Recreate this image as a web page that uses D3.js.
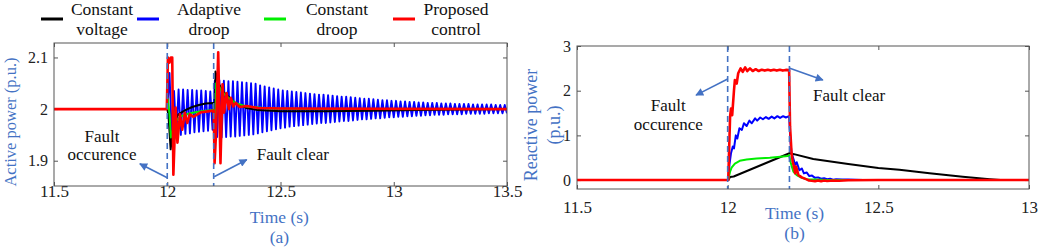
<!DOCTYPE html>
<html>
<head>
<meta charset="utf-8">
<script src="https://cdnjs.cloudflare.com/ajax/libs/d3/7.8.5/d3.min.js"></script>
<style>
  body { margin: 0; background: #fff; }
  svg, svg text { font-family: "Liberation Serif", "Times New Roman", serif; }
  svg { display: block; }
</style>
</head>
<body>
<div id="chart"></div>
<script>
// ---- shared ----
const seriesNames = [["Constant", "voltage"], ["Adaptive", "droop"], ["Constant", "droop"], ["Proposed", "control"]];
const seriesColors = ["#000000", "#0000ff", "#00ee00", "#ff0000"];
const faultTimes = [12.0, 12.205];

// ---- (a) active power ----
const pTicksX = [11.5, 12, 12.5, 13, 13.5];
const pTicksY = [1.9, 2, 2.1];
const pBlack = [[11.5, 2.0], [12.0, 2.0], [12.005, 1.99], [12.015, 1.922], [12.025, 1.96], [12.035, 1.98],
  [12.05, 1.99], [12.08, 1.998], [12.11, 2.004], [12.14, 2.008], [12.17, 2.011], [12.204, 2.012],
  [12.207, 1.95], [12.209, 1.937], [12.213, 2.073], [12.222, 2.055], [12.232, 2.045], [12.25, 2.032],
  [12.27, 2.024], [12.3, 2.012], [12.35, 2.002], [12.4, 1.998], [12.5, 1.996], [12.7, 1.996],
  [12.9, 1.997], [13.1, 1.998], [13.3, 1.999], [13.5, 2.0]];
const pGreen = [[11.5, 2.0], [12.0, 2.0], [12.003, 2.02], [12.01, 1.99], [12.016, 1.945], [12.025, 1.96],
  [12.04, 1.978], [12.06, 1.986], [12.1, 1.992], [12.15, 1.996], [12.205, 1.998], [12.208, 1.97],
  [12.211, 1.95], [12.216, 2.05], [12.228, 2.045], [12.24, 2.035], [12.26, 2.025], [12.3, 2.012],
  [12.35, 2.005], [12.45, 2.001], [12.6, 2.0], [13.5, 2.0]];
const pRed = [[11.5, 2.0], [11.998, 2.0], [12.003, 2.1], [12.01, 2.09], [12.016, 2.1], [12.022, 2.1],
  [12.027, 1.873], [12.037, 2.003], [12.045, 1.935], [12.056, 1.99], [12.066, 1.96], [12.078, 1.993],
  [12.088, 1.973], [12.1, 1.99], [12.115, 1.985], [12.15, 1.994], [12.205, 1.997], [12.209, 1.895],
  [12.215, 1.95], [12.225, 2.11], [12.235, 1.895], [12.244, 2.048], [12.251, 1.993], [12.262, 2.031],
  [12.272, 2.0], [12.281, 2.022], [12.291, 2.005], [12.302, 2.012], [12.32, 2.004], [12.35, 2.006],
  [12.4, 2.002], [12.5, 2.001], [13.5, 2.0]];
// adaptive droop: steady part, then samples every 10 ms from 12.00 s
const pBlueSteady = [[11.5, 2.0], [12.0, 2.0]];
const pBlueStart = 12.0;
const pBlueStep = 0.01;
const pBlue = [
  2.0, 2.07, 1.95, 2.035, 1.948, 2.038, 1.95, 2.038, 1.952, 2.037, 1.953,
  2.037, 1.955, 2.036, 1.956, 2.036, 1.957, 2.035, 1.958, 2.034, 1.96,
  2.055, 1.946, 2.056, 1.945, 2.055, 1.946, 2.054, 1.947, 2.054, 1.947,
  2.053, 1.948, 2.052, 1.949, 2.051, 1.950, 2.050, 1.951, 2.049, 1.953,
  2.046, 1.955, 2.044, 1.957, 2.042, 1.959, 2.040, 1.961, 2.038, 1.963,
  2.036, 1.964, 2.035, 1.966, 2.034, 1.967, 2.033, 1.968, 2.032, 1.969,
  2.031, 1.970, 2.030, 1.971, 2.029, 1.972, 2.028, 1.973, 2.028, 1.973,
  2.027, 1.974, 2.026, 1.975, 2.025, 1.976, 2.024, 1.977, 2.024, 1.977,
  2.023, 1.978, 2.022, 1.979, 2.021, 1.980, 2.020, 1.980, 2.020, 1.981,
  2.019, 1.982, 2.018, 1.982, 2.017, 1.983, 2.017, 1.984, 2.016, 1.984,
  2.016, 1.985, 2.015, 1.985, 2.015, 1.986, 2.014, 1.986, 2.014, 1.987,
  2.013, 1.987, 2.013, 1.988, 2.012, 1.988, 2.012, 1.989, 2.012, 1.989,
  2.011, 1.989, 2.011, 1.990, 2.011, 1.990, 2.010, 1.990, 2.010, 1.990,
  2.010, 1.991, 2.010, 1.991, 2.009, 1.991, 2.009, 1.991, 2.009, 1.991,
  2.009, 1.992, 2.009, 1.992, 2.008, 1.992, 2.008, 1.992, 2.008, 1.992
];

// ---- (b) reactive power ----
const qTicksX = [11.5, 12, 12.5, 13];
const qTicksY = [0, 1, 2, 3];
const qBlack = [[11.5, 0], [12.002, 0], [12.008, 0.07], [12.02, 0.08], [12.205, 0.6], [12.22, 0.58],
  [12.284, 0.47], [12.4, 0.36], [12.5, 0.27], [12.57, 0.23], [12.67, 0.15], [12.78, 0.075],
  [12.87, 0.02], [12.905, 0], [13, 0]];
const qBlue = [[11.5, 0], [12.002, 0], [12.006, 0.35], [12.011, 0.6], [12.017, 0.75], [12.021, 0.71],
  [12.027, 1.0], [12.032, 0.93], [12.039, 1.16], [12.047, 1.12], [12.054, 1.27], [12.063, 1.21],
  [12.072, 1.33], [12.08, 1.27], [12.091, 1.38], [12.098, 1.33], [12.108, 1.4], [12.117, 1.36],
  [12.127, 1.41], [12.136, 1.37], [12.146, 1.42], [12.155, 1.38], [12.165, 1.43], [12.174, 1.39],
  [12.184, 1.43], [12.193, 1.4], [12.204, 1.43], [12.208, 0.9], [12.212, 0.6], [12.216, 0.52],
  [12.224, 0.34], [12.229, 0.4], [12.238, 0.22], [12.246, 0.26], [12.253, 0.15], [12.262, 0.17],
  [12.271, 0.09], [12.28, 0.1], [12.29, 0.05], [12.3, 0.06], [12.31, 0.03], [12.32, 0.04],
  [12.33, 0.02], [12.34, 0.03], [12.35, 0.01], [12.36, 0.02], [12.38, 0.01], [12.4, 0.01],
  [12.45, 0], [13, 0]];
const qGreen = [[11.5, 0], [12.002, 0], [12.008, 0.19], [12.013, 0.28], [12.024, 0.37], [12.04, 0.43],
  [12.063, 0.46], [12.096, 0.48], [12.14, 0.5], [12.2, 0.54], [12.204, 0.56], [12.209, 0.4],
  [12.213, 0.3], [12.218, 0.19], [12.229, 0.11], [12.246, 0.05], [12.262, 0.02], [12.29, 0.01],
  [12.33, 0], [13, 0]];
const qRed = [[11.5, 0], [12.002, 0], [12.008, 1.42], [12.011, 1.6], [12.015, 1.45], [12.021, 2.01],
  [12.024, 2.24], [12.03, 2.16], [12.035, 2.39], [12.043, 2.5], [12.05, 2.42], [12.058, 2.52],
  [12.065, 2.44], [12.074, 2.5], [12.083, 2.44], [12.093, 2.48], [12.103, 2.44], [12.113, 2.47],
  [12.123, 2.45], [12.133, 2.47], [12.143, 2.45], [12.153, 2.47], [12.163, 2.45], [12.173, 2.47],
  [12.183, 2.45], [12.193, 2.465], [12.204, 2.46], [12.207, 1.2], [12.212, 0.6], [12.216, 0.41],
  [12.22, 0.3], [12.224, 0.15], [12.227, 0.3], [12.235, 0.11], [12.246, 0.06], [12.262, 0.015],
  [12.27, -0.01], [12.279, -0.015], [12.29, -0.025], [12.3, -0.01], [12.31, -0.025], [12.32, -0.01],
  [12.33, -0.02], [12.35, -0.01], [12.37, -0.015], [12.4, -0.005], [12.5, 0], [13, 0]];

const AXIS_BLUE = "#4472c4";
const FRAME = "#555";
const SERIF = "'Liberation Serif', 'Times New Roman', serif";

const svg = d3.select("#chart").append("svg")
  .attr("width", 1038)
  .attr("height", 251)
  .attr("font-family", SERIF);

svg.append("defs").append("marker")
  .attr("id", "arrow")
  .attr("viewBox", "0 0 10 10")
  .attr("refX", 9).attr("refY", 5)
  .attr("markerWidth", 9).attr("markerHeight", 8)
  .attr("markerUnits", "userSpaceOnUse")
  .attr("orient", "auto")
  .append("path")
  .attr("d", "M0,0L10,5L0,10z")
  .attr("fill", AXIS_BLUE);

const fmt = d => String(d);

function drawPanel(cfg) {
  const g = svg.append("g").attr("font-family", SERIF);
  const x = d3.scaleLinear().domain(cfg.xDomain).range([cfg.left, cfg.right]);
  const y = d3.scaleLinear().domain(cfg.yDomain).range([cfg.bottom, cfg.top]);

  g.append("clipPath").attr("id", cfg.id + "-clip")
    .append("rect")
    .attr("x", cfg.left).attr("y", cfg.top)
    .attr("width", cfg.right - cfg.left).attr("height", cfg.bottom - cfg.top);

  // axes with inward ticks on all four sides
  g.append("g").attr("transform", `translate(0,${cfg.bottom})`)
    .call(d3.axisBottom(x).tickValues(cfg.ticksX).tickSize(-4).tickFormat(fmt))
    .attr("font-family", SERIF).attr("font-size", 17)
    .call(a => a.select(".domain").remove())
    .call(a => a.selectAll("text").attr("dy", null).attr("y", cfg.xLabelY).attr("fill", "#222"));
  g.append("g").attr("transform", `translate(0,${cfg.top})`)
    .call(d3.axisTop(x).tickValues(cfg.ticksX).tickSize(-4).tickFormat(""))
    .call(a => a.select(".domain").remove());
  g.append("g").attr("transform", `translate(${cfg.left},0)`)
    .call(d3.axisLeft(y).tickValues(cfg.ticksY).tickSize(-4).tickPadding(6).tickFormat(fmt))
    .attr("font-family", SERIF).attr("font-size", 16)
    .call(a => a.select(".domain").remove())
    .call(a => a.selectAll("text").attr("fill", "#222"));
  g.append("g").attr("transform", `translate(${cfg.right},0)`)
    .call(d3.axisRight(y).tickValues(cfg.ticksY).tickSize(-4).tickFormat(""))
    .call(a => a.select(".domain").remove());
  g.selectAll(".tick line").attr("stroke", FRAME);

  // curves
  const line = d3.line().x(d => x(d[0])).y(d => y(d[1]));
  const plot = g.append("g").attr("clip-path", `url(#${cfg.id}-clip)`);
  cfg.series.forEach(s => {
    plot.append("path")
      .datum(s.data)
      .attr("fill", "none")
      .attr("stroke", s.color)
      .attr("stroke-width", s.width)
      .attr("stroke-linejoin", "round")
      .attr("d", line);
  });

  // fault instants
  g.selectAll(".fault")
    .data(faultTimes)
    .join("line")
    .attr("x1", d => x(d)).attr("x2", d => x(d))
    .attr("y1", cfg.top).attr("y2", cfg.bottom)
    .attr("stroke", AXIS_BLUE)
    .attr("stroke-width", 1.6)
    .attr("stroke-dasharray", "6,4");

  // frame
  g.append("rect")
    .attr("x", cfg.left).attr("y", cfg.top)
    .attr("width", cfg.right - cfg.left).attr("height", cfg.bottom - cfg.top)
    .attr("fill", "none").attr("stroke", FRAME);

  // annotations
  cfg.arrows.forEach(a => {
    g.append("line")
      .attr("x1", x(a[0][0])).attr("y1", y(a[0][1]))
      .attr("x2", x(a[1][0])).attr("y2", y(a[1][1]))
      .attr("stroke", AXIS_BLUE).attr("stroke-width", 1.6)
      .attr("marker-end", "url(#arrow)");
  });
  cfg.notes.forEach(n => {
    g.append("text")
      .attr("x", x(n.t)).attr("y", y(n.v))
      .attr("text-anchor", n.anchor)
      .attr("font-size", 17)
      .attr("fill", "#111")
      .text(n.text);
  });

  // axis titles
  const yt = g.append("text")
    .attr("transform", `translate(${cfg.yTitleX},${cfg.yTitleY}) rotate(-90)`)
    .attr("text-anchor", "middle")
    .attr("font-size", cfg.yTitleSize)
    .attr("fill", AXIS_BLUE);
  cfg.yTitle.forEach((t, i) => {
    yt.append("tspan").attr("x", 0).attr("y", i * cfg.yTitleGap).text(t);
  });
  g.append("text")
    .attr("x", x(cfg.xTitleT)).attr("y", cfg.xTitleY)
    .attr("text-anchor", "middle").attr("font-size", 17.5).attr("fill", AXIS_BLUE)
    .text("Time (s)");
  g.append("text")
    .attr("x", x(cfg.xTitleT)).attr("y", cfg.xTitleY + 20)
    .attr("text-anchor", "middle").attr("font-size", 17.5).attr("fill", AXIS_BLUE)
    .text(cfg.tag);
}

drawPanel({
  id: "pa", left: 54, right: 507, top: 43, bottom: 186,
  xDomain: [11.5, 13.5], yDomain: [1.851, 2.128],
  ticksX: pTicksX, ticksY: pTicksY, xLabelY: 11,
  series: [
    { data: pBlueSteady.concat(pBlue.map((v, i) => [pBlueStart + i * pBlueStep, v])), color: seriesColors[1], width: 1.9 },
    { data: pBlack, color: seriesColors[0], width: 2 },
    { data: pGreen, color: seriesColors[2], width: 2 },
    { data: pRed, color: seriesColors[3], width: 2.6 }
  ],
  arrows: [[[12.0, 1.867], [11.879, 1.894]], [[12.207, 1.869], [12.351, 1.902]]],
  notes: [
    { t: 11.712, v: 1.937, text: "Fault", anchor: "middle" },
    { t: 11.712, v: 1.901, text: "occurence", anchor: "middle" },
    { t: 12.395, v: 1.902, text: "Fault clear", anchor: "start" }
  ],
  yTitle: ["Active power (p.u.)"], yTitleX: 16, yTitleY: 122, yTitleSize: 16.5, yTitleGap: 0,
  xTitleT: 12.495, xTitleY: 223, tag: "(a)"
});

drawPanel({
  id: "pb", left: 577, right: 1029, top: 46, bottom: 189,
  xDomain: [11.5, 13], yDomain: [-0.2, 3],
  ticksX: qTicksX, ticksY: qTicksY, xLabelY: 24,
  series: [
    { data: qBlack, color: seriesColors[0], width: 2 },
    { data: qBlue, color: seriesColors[1], width: 2 },
    { data: qGreen, color: seriesColors[2], width: 2 },
    { data: qRed, color: seriesColors[3], width: 2.6 }
  ],
  arrows: [[[12.0, 2.26], [11.895, 1.9]], [[12.204, 2.506], [12.316, 2.237]]],
  notes: [
    { t: 11.803, v: 1.54, text: "Fault", anchor: "middle" },
    { t: 11.803, v: 1.11, text: "occurence", anchor: "middle" },
    { t: 12.283, v: 1.767, text: "Fault clear", anchor: "start" }
  ],
  yTitle: ["Reactive power", "(p.u.)"], yTitleX: 537, yTitleY: 125, yTitleSize: 18, yTitleGap: 23,
  xTitleT: 12.222, xTitleY: 219, tag: "(b)"
});

// legend
const legend = svg.append("g").attr("font-family", SERIF);
const legendLineX = [41, 137, 264, 393];
const legendTextX = [102, 209, 337, 456];
seriesNames.forEach((name, i) => {
  legend.append("line")
    .attr("x1", legendLineX[i]).attr("x2", legendLineX[i] + 22)
    .attr("y1", 19).attr("y2", 19)
    .attr("stroke", seriesColors[i]).attr("stroke-width", 3);
  name.forEach((w, j) => {
    legend.append("text")
      .attr("x", legendTextX[i]).attr("y", 15 + j * 20)
      .attr("text-anchor", "middle").attr("font-size", 17.5).attr("fill", "#111")
      .text(w);
  });
});
</script>
</body>
</html>
